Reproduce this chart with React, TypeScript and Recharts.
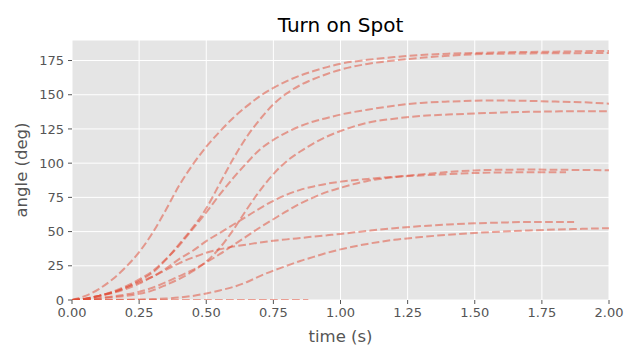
import { CartesianGrid, Label, Line, LineChart, XAxis, YAxis } from 'recharts'

// sample times (s) shared by every run
const times = [
  0, 0.05, 0.1, 0.15, 0.2, 0.25, 0.3, 0.35, 0.4, 0.45, 0.5, 0.55, 0.6, 0.65, 0.7, 0.75, 0.8, 0.85, 0.88, 0.9,
  0.95, 1.0, 1.1, 1.2, 1.3, 1.4, 1.5, 1.6, 1.7, 1.75, 1.8, 1.84, 1.87, 1.9, 2.0,
]

// angle (deg) per run, null where the run has no sample
const run1 = [0, 3, 8, 15, 24, 35, 49, 66, 84, 99, 112, 123, 133, 141.5, 149, 155, 160, 164, null, 167.3, 170.2, 172.6, 175.5, 177.5, 179, 180, 180.5, 181, 181.3, null, 181.5, null, null, 181.8, 182]
const run2 = [0, 1, 3, 5.5, 9, 14, 20, 29.5, 41, 53, 67, 85, 103, 119, 132, 143, 151, 157, null, 161.5, 165.2, 168.3, 172.5, 175, 177, 178.5, 179.5, 180, 180.2, null, 180.3, null, null, 180.4, 180.5]
const run3 = [0, 1, 3, 6, 10, 15, 21, 30, 40, 52, 64, 77, 89, 100, 110, 117, 122.5, 127, null, 130.5, 133, 135.5, 139, 142, 144, 145, 145.6, 145.8, 145.5, null, 145, null, null, 144.5, 143.5]
const run4 = [0, 0.3, 1, 2, 3, 4.5, 7, 11, 15.5, 21, 28, 38, 51, 66, 80, 92, 101.5, 108.5, null, 114.5, 119.5, 123.5, 129.5, 132.5, 134.5, 135.5, 136.3, 137, 137.5, null, 137.8, null, null, 138, 138]
const run5 = [0, 0.5, 1.5, 2.5, 4, 6, 9, 13, 17.5, 22, 27.5, 33.5, 40, 46.5, 53, 59, 65, 70.5, null, 75, 79, 82, 87, 89.8, 91.8, 93.5, 94.7, 95.2, 95.3, null, 95.2, null, null, 95, 94.8]
const run6 = [0, 0.8, 3, 5, 8, 12, 17, 23, 30, 36, 43, 49, 55, 61, 67, 72.5, 77, 80.5, null, 83, 85, 86.5, 88.5, 90, 91, 92, 92.8, 93.2, 93.3, null, 93.3, 93.3, null, null, null]
const run7 = [0, 1, 3, 5.5, 9, 13, 17, 22, 27, 31, 34.5, 37, 39, 40.5, 42, 43.3, 44.3, 45.3, null, 46.3, 47.3, 48.3, 50.5, 52.5, 54, 55.2, 56, 56.6, 57, null, 57, null, 57, null, null]
const run8 = [0, 0, 0, 0.1, 0.2, 0.4, 0.7, 1.1, 1.8, 3, 4.8, 7, 9.5, 13, 17.5, 21.5, 25, 28.5, null, 31.5, 34.5, 37, 41, 44, 46, 47.7, 49, 50, 50.8, null, 51.5, null, null, 52, 52.5]
const run9 = [0, 0, 0, 0, 0, 0, 0, 0, 0, 0, 0, 0, 0, 0, 0, 0, 0, 0, 0, null, null, null, null, null, null, null, null, null, null, null, null, null, null, null, null]

const runs = [run1, run2, run3, run4, run5, run6, run7, run8, run9]

const xTicks = [0, 0.25, 0.5, 0.75, 1.0, 1.25, 1.5, 1.75, 2.0]
const yTicks = [0, 25, 50, 75, 100, 125, 150, 175]

const data = times.map((t, i) => {
  const row: Record<string, number | null> = { t }
  runs.forEach((r, k) => {
    row[`r${k}`] = r[i]
  })
  return row
})

const font = '"DejaVu Sans", sans-serif'
const tick = { fill: '#555555', fontSize: 13, fontFamily: font }

export default function App() {
  return (
    <div style={{ position: 'absolute', left: 0, top: 0, width: 640, height: 360, background: '#fff' }}>
      <div
        style={{
          position: 'absolute',
          left: 72,
          width: 537,
          top: 15,
          textAlign: 'center',
          fontFamily: font,
          fontSize: 20,
          lineHeight: '20px',
          color: '#000',
        }}
      >
        Turn on Spot
      </div>
      <LineChart width={640} height={360} data={data} margin={{ top: 40, right: 31, bottom: 0, left: 12 }}>
        <CartesianGrid stroke="#ffffff" strokeWidth={1} fill="#E5E5E5" />
        <XAxis
          dataKey="t"
          type="number"
          domain={[0, 2]}
          ticks={xTicks}
          tickFormatter={(v: number) => v.toFixed(2)}
          axisLine={false}
          tickLine={{ stroke: '#555555' }}
          tickSize={4}
          tickMargin={4}
          tick={tick}
          height={60}
          allowDataOverflow
        >
          <Label value="time (s)" position="insideBottom" offset={18} fill="#555555" fontSize={16.5} fontFamily={font} />
        </XAxis>
        <YAxis
          type="number"
          domain={[0, 190]}
          ticks={yTicks}
          axisLine={false}
          tickLine={{ stroke: '#555555' }}
          tickSize={4}
          tickMargin={4}
          tick={tick}
          width={60}
          allowDataOverflow
        >
          <Label
            value="angle (deg)"
            angle={-90}
            position="insideLeft"
            offset={9}
            fill="#555555"
            fontSize={16.5}
            fontFamily={font}
            style={{ textAnchor: 'middle' }}
          />
        </YAxis>
        {runs.map((_, k) => (
          <Line
            key={k}
            dataKey={`r${k}`}
            type="monotone"
            stroke="#E24A33"
            strokeOpacity={0.5}
            strokeWidth={2}
            strokeDasharray="7.7 3.3"
            dot={false}
            connectNulls
            isAnimationActive={false}
          />
        ))}
      </LineChart>
    </div>
  )
}
